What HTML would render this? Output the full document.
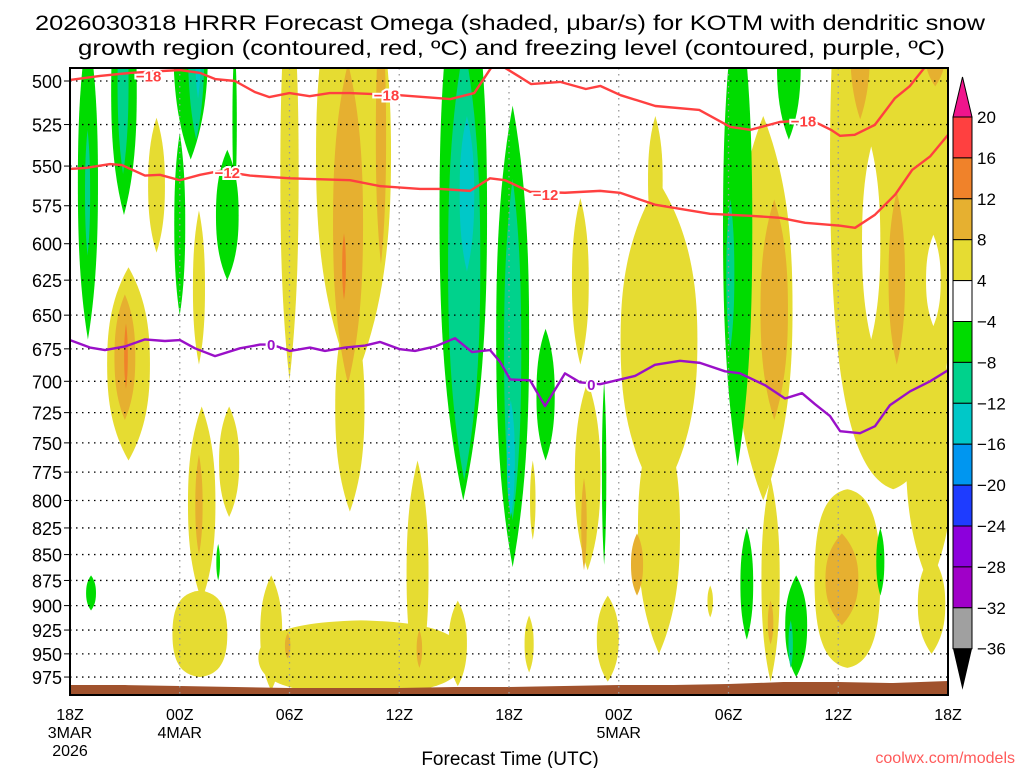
<!DOCTYPE html>
<html><head><meta charset="utf-8"><style>
html,body{margin:0;padding:0;background:#fff;}
svg{display:block;}
text{font-family:"Liberation Sans",sans-serif;}
</style></head><body>
<svg id="chart" width="1024" height="768" viewBox="0 0 1024 768" xmlns="http://www.w3.org/2000/svg">
<rect width="1024" height="768" fill="#fff"/>
<text x="35" y="30" font-size="21" textLength="950" lengthAdjust="spacingAndGlyphs">2026030318 HRRR Forecast Omega (shaded, μbar/s) for KOTM with dendritic snow</text>
<text x="78" y="55" font-size="21" textLength="867" lengthAdjust="spacingAndGlyphs">growth region (contoured, red, ºC) and freezing level (contoured, purple, ºC)</text>
<defs><clipPath id="plotclip"><rect x="70" y="68" width="878" height="627"/></clipPath></defs>
<g id="shading" clip-path="url(#plotclip)"></g>
<g id="terrain"></g>
<g id="grid"></g>
<g id="contours" clip-path="url(#plotclip)"></g>
<g id="axes"></g>
<g id="colorbar"></g>
<text x="510" y="765" font-size="19" text-anchor="middle">Forecast Time (UTC)</text>
<text x="1015" y="763" font-size="16" text-anchor="end" fill="#ff5a5a">coolwx.com/models</text>
</svg>
<script>
// ---- data ----
const pressureTicks = [500,525,550,575,600,625,650,675,700,725,750,775,800,825,850,875,900,925,950,975];
const timeTickHours = [0,6,12,18,24,30,36,42,48];
const timeTickLabels = ["18Z","00Z","06Z","12Z","18Z","00Z","06Z","12Z","18Z"];
const dateLabels = [[0,"3MAR","2026"],[6,"4MAR",""],[30,"5MAR",""]];
const levelColors = {g1:"#00dc00",g2:"#00d28c",g3:"#00c8c8",y1:"#e6dc32",y2:"#e6b030",y3:"#f0822a",w:"#ffffff"};
// blobs: [hourCenter, pTop, pBottom, halfWidthHours, level, boxy(optional)]
const blobs = [
 [45.0,380,790,3.45,"y1",1],[47.0,650,880,1.3,"y1"],
 [43.8,538,668,0.5,"w"],[47.2,594,658,0.4,"w"],
 [43.2,440,522,0.55,"y2"],[47.3,460,503,0.6,"y2"],[45.2,566,687,0.45,"y2"],
 [0.98,470,668,0.55,"g1"],[0.96,528,608,0.14,"g2"],
 [2.95,440,581,0.7,"g1"],[2.9,450,555,0.3,"g2"],
 [6.6,420,546,0.95,"g1"],[6.0,530,650,0.3,"g1"],[6.9,430,534,0.45,"g2"],[7.0,460,510,0.15,"g3"],
 [8.6,540,625,0.62,"g1"],[9.0,480,571,0.12,"g1"],
 [4.73,521,606,0.46,"y1"],[7.05,578,687,0.33,"y1"],
 [3.2,616,765,1.17,"y1"],[3.0,635,731,0.57,"y2"],[3.06,656,706,0.1,"y3"],
 [12.0,440,699,0.5,"y1"],
 [15.5,420,702,2.05,"y1"],[15.3,640,810,0.8,"y1"],[15.2,490,702,0.82,"y2"],[17.0,460,614,0.28,"y2"],[14.98,593,639,0.1,"y3"],
 [21.5,420,800,1.3,"g1"],[21.55,480,782,0.88,"g2"],[21.7,520,619,0.4,"g3"],
 [24.2,514,862,0.9,"g1"],[24.2,558,818,0.47,"g2"],[24.1,715,815,0.22,"g3"],
 [26.0,660,765,0.5,"g1"],
 [27.9,570,687,0.46,"y1"],
 [32.2,560,800,2.1,"y1"],[32.0,520,600,0.4,"y1"],[32.2,720,950,1.15,"y1"],[31.0,830,890,0.33,"y2"],
 [29.4,890,980,0.6,"y1"],[28.3,700,865,0.7,"y1"],[28.1,780,865,0.15,"y2"],
 [29.2,700,860,0.12,"g1"],
 [37.9,520,800,1.6,"y1"],[38.3,780,980,0.5,"y1"],[38.5,571,731,0.75,"y2"],[38.3,895,940,0.15,"y2"],
 [36.5,450,770,0.8,"g1"],[36.1,571,675,0.22,"g2"],
 [39.3,450,534,0.65,"g1"],
 [42.5,790,965,1.8,"y1",1],[42.2,830,920,0.9,"y2"],
 [37.0,825,935,0.35,"g1"],[39.7,870,975,0.6,"g1"],[39.4,915,965,0.12,"g2"],
 [44.3,825,890,0.22,"g1"],[35.0,880,912,0.15,"y1"],[47.1,850,950,0.75,"y1"],
 [1.15,870,905,0.27,"g1"],
 [7.2,720,895,0.75,"y1"],[7.05,760,850,0.2,"y2"],[8.7,720,815,0.55,"y1"],[8.1,840,875,0.1,"g1"],
 [7.1,885,975,1.5,"y1",1],
 [15.9,915,995,5.6,"y1",1],[11.0,870,990,0.6,"y1"],[19.0,765,985,0.6,"y1"],[21.2,895,985,0.5,"y1"],
 [11.9,928,955,0.15,"y2"],[19.1,925,965,0.15,"y2"],
 [25.3,765,836,0.15,"y1"],[25.1,910,970,0.25,"y1"]
];
const terrainHours = [0,3,6,9,12,15,18,21,24,27,30,33,36,39,42,45,48];
const terrainP = [983.8,983.8,984.9,986,987.1,987.1,987.1,986,986,984.9,983.8,983.8,982.7,980.5,980.5,981.6,979.4];
const m18Hours = [0,1.64,3.28,4.92,6.01,7.11,7.93,9.02,10.1,10.9,12.0,13.1,14.2,15.3,18.0,20.8,22.1,23.0,23.4,23.8,24.6,25.2,26.8,28.2,29.0,30.1,32.0,34.4,36.1,37.2,38.8,40.5,41.6,42.1,42.9,44.0,45.1,45.9,46.7,47.2];
const m18P = [499.4,497.2,495.5,494.5,493.9,495.5,498.9,500,506.2,509.1,506.8,508.6,506.8,506.8,508,510.2,506.8,493,490,492.8,497.8,501.7,500.5,504.5,502.8,508,514.2,516.5,526.4,528.1,523.5,522.3,528.1,531.7,531.1,525.2,509.7,503,492.8,488];
const m12Hours = [0,0.82,2.19,2.84,4.10,4.92,6.01,7.11,8.20,9.84,12.03,15.31,16.95,19.14,20.23,21.87,22.96,23.78,25.15,27.06,28.98,30.07,31.98,34.99,37.18,38.82,40.19,42.1,42.92,44.01,45.11,46.04,47.03,48];
const m12P = [551.8,551.2,548.8,549.4,555.9,555.4,558.8,555.4,553.0,555.9,557.6,558.8,562.5,564.3,564.3,565.5,557.6,558.8,566.1,566.7,565.5,566.7,574.3,580.2,581.5,582.8,586.1,588.0,589.4,580.8,567.9,552.4,544.0,531.1];
const zeroHours = [0,1.09,1.91,3.01,4.10,5.19,6.01,6.83,7.93,9.29,10.39,11.04,12.03,13.12,13.94,15.04,16.13,16.95,18.04,18.86,19.96,21.05,21.98,22.96,23.51,24.06,25.15,25.97,27.06,27.88,28.98,30.89,31.98,33.35,34.44,35.81,36.63,38.0,39.09,40.02,40.73,41.55,42.1,43.19,44.01,44.83,45.93,47.02,48];
const zeroP = [668.4,674.0,675.9,673.2,667.9,669.1,668.4,674.6,680.5,674.6,671.8,671.8,676.6,674.0,676.6,674.0,672.5,669.8,675.3,676.6,673.2,667.0,677.4,675.9,684.9,698.5,699.2,719.7,693.8,700.8,702.3,695.8,687.2,684.1,685.7,692.2,693.8,703.1,713.6,709.4,718.2,727.8,740.2,741.9,736.1,718.9,707.9,700.0,691.4];
const contourLabels = [[4.3,497,"−18"],[17.3,507.5,"−18"],[40.1,522.5,"−18"],[8.6,553.6,"−12"],[26.0,567.5,"−12"],[11.0,671.5,"0"],[28.5,702,"0"]];
const cbLevels = [20,16,12,8,4,-4,-8,-12,-16,-20,-24,-28,-32,-36];
const cbColors = ["#ff4040","#f0822a","#e6b030","#e6dc32","#ffffff","#00dc00","#00d28c","#00c8c8","#0096f0","#1e3cff","#8c00dc","#a000c8","#a0a0a0"];

// ---- axes functions ----
const X0=70,X1=948,Y500=81,KY=892.5;
const xOf = h => X0 + h*(X1-X0)/48;
const yOf = p => Y500 + KY*Math.log(p/500);
const NS="http://www.w3.org/2000/svg";
function mk(tag, attrs, parent){const e=document.createElementNS(NS,tag);for(const k in attrs)e.setAttribute(k,attrs[k]);parent.appendChild(e);return e;}

// shading
const gS=document.getElementById('shading');
blobs.forEach(b=>{
  const xc=xOf(b[0]), yt=yOf(b[1]), yb=yOf(b[2]), w=b[3]*(X1-X0)/48, ym=(yt+yb)/2;
  const a=b[5]?0.75:0.9, c=b[5]?0.05:0.35, s=b[5]?0.6:0.3;
  const d=`M${xc},${yt} C${xc+w*a},${yt+(ym-yt)*c} ${xc+w},${ym-(ym-yt)*s} ${xc+w},${ym} C${xc+w},${ym+(yb-ym)*s} ${xc+w*a},${yb-(yb-ym)*c} ${xc},${yb} C${xc-w*a},${yb-(yb-ym)*c} ${xc-w},${ym+(yb-ym)*s} ${xc-w},${ym} C${xc-w},${ym-(ym-yt)*s} ${xc-w*a},${yt+(ym-yt)*c} ${xc},${yt}Z`;
  const e=mk('path',{d:d,fill:levelColors[b[4]]},gS);
  
  
});

// terrain
const gT=document.getElementById('terrain');
let td=`M${X0},694 `+terrainHours.map((h,i)=>`L${xOf(h)},${yOf(terrainP[i])}`).join(' ')+` L${X1},694Z`;
const tp=mk('path',{d:td,fill:"#a0522d"},gT);



// grid
const gG=document.getElementById('grid');
pressureTicks.forEach(p=>{
  const l=mk('line',{x1:X0,x2:X1,y1:yOf(p),y2:yOf(p),stroke:"#000","stroke-width":1.3,"stroke-dasharray":"1.5,4.5"},gG);
  
  
});
timeTickHours.slice(1,-1).forEach(h=>{
  const l=mk('line',{x1:xOf(h),x2:xOf(h),y1:68,y2:695,stroke:"#999","stroke-width":1.3,"stroke-dasharray":"1.5,4.5"},gG);
  
  
});

// contours
const gC=document.getElementById('contours');
function line(hs,ps,color,name){
  const d=hs.map((h,i)=>(i?'L':'M')+xOf(h)+','+yOf(ps[i])).join(' ');
  const e=mk('path',{d:d,fill:"none",stroke:color,"stroke-width":2.4,"stroke-linejoin":"round"},gC);
  
  
}
line(m18Hours,m18P,"#ff4040","contour-minus18");
line(m12Hours,m12P,"#ff4040","contour-minus12");
line(zeroHours,zeroP,"#9a10c8","freezing-level-contour");
contourLabels.forEach(c=>{
  const col=c[2]==="0"?"#9a10c8":"#ff4040";
  const t=mk('text',{x:xOf(c[0]),y:yOf(c[1])+6,"text-anchor":"middle","font-size":15,"font-weight":"bold",fill:col,stroke:"#fff","stroke-width":4,"paint-order":"stroke"},gC);
  t.textContent=c[2];
  
  
});

// axes
const gA=document.getElementById('axes');
const fr=mk('rect',{x:X0,y:68,width:X1-X0,height:627,fill:"none",stroke:"#000","stroke-width":2},gA);


pressureTicks.forEach(p=>{
  const t=mk('text',{x:62,y:yOf(p)+7,"text-anchor":"end","font-size":18},gA);
  t.textContent=p;
  
  
  const k=mk('line',{x1:64,x2:X0,y1:yOf(p),y2:yOf(p),stroke:"#000","stroke-width":1},gA);
  
  
});
timeTickHours.forEach((h,i)=>{
  const t=mk('text',{x:xOf(h),y:720,"text-anchor":"middle","font-size":16},gA);
  t.textContent=timeTickLabels[i];
  
  
});
dateLabels.forEach(dl=>{
  const t=mk('text',{x:xOf(dl[0]),y:738,"text-anchor":"middle","font-size":16},gA);
  t.textContent=dl[1];
  
  
  if(dl[2]){const t2=mk('text',{x:xOf(dl[0]),y:756,"text-anchor":"middle","font-size":16},gA);
  t2.textContent=dl[2];
  
  }
});

// colorbar
const gB=document.getElementById('colorbar');
const CX=953,CW=19,CY0=117,CH=40.9;
const tri=mk('path',{d:`M${CX},${CY0} L${CX+CW/2},77 L${CX+CW},${CY0}Z`,fill:"#f0148c",stroke:"#000","stroke-width":1},gB);


cbColors.forEach((c,i)=>{
  const r=mk('rect',{x:CX,y:CY0+i*CH,width:CW,height:CH,fill:c,stroke:"#000","stroke-width":1},gB);
  
  
});
const yEnd=CY0+cbColors.length*CH;
const tri2=mk('path',{d:`M${CX},${yEnd} L${CX+CW/2},${yEnd+41} L${CX+CW},${yEnd}Z`,fill:"#000"},gB);


cbLevels.forEach((v,i)=>{
  const t=mk('text',{x:977,y:CY0+i*CH+6,"font-size":17},gB);
  t.textContent=v<0?'−'+(-v):String(v);
  
  
});
</script>
</body></html>
